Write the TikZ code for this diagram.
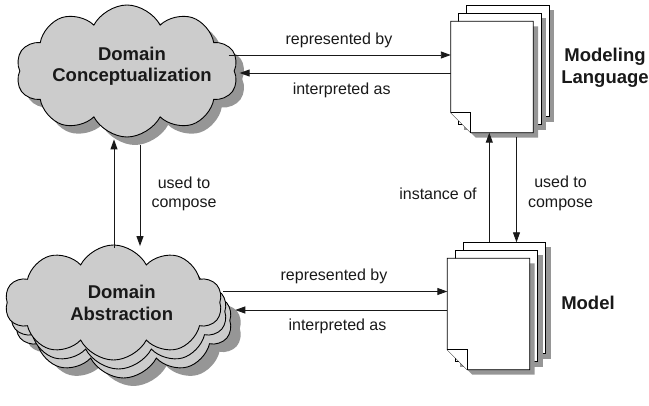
\documentclass[tikz,border=0pt]{standalone}
\usepackage{fontspec}
\setmainfont{Liberation Sans}
\usetikzlibrary{shapes.symbols,arrows.meta,calc}
\definecolor{cloudfill}{RGB}{204,204,204}
\definecolor{shadowgray}{RGB}{150,150,150}
\definecolor{inkc}{RGB}{25,25,25}
\newcommand{\docpage}[1]{%
  \fill[shadowgray] ([xshift=5pt,yshift=-5pt]#1.north west) rectangle ([xshift=5pt,yshift=-5pt]#1.south east);
  \draw[pageline] (#1.north west) rectangle (#1.south east);}
\newcommand{\docfront}[1]{%
  \fill[shadowgray] ([xshift=5pt,yshift=-5pt]#1.north west) -- ([xshift=5pt,yshift=-5pt]#1.north east) -- ([xshift=5pt,yshift=-5pt]#1.south east) -- ([xshift=25pt,yshift=-5pt]#1.south west) -- ([xshift=5pt,yshift=15pt]#1.south west) -- cycle;
  \draw[pageline] (#1.north west) -- (#1.north east) -- (#1.south east) -- ([xshift=20pt]#1.south west) -- ([yshift=20pt]#1.south west) -- cycle;
  \draw[pageline] ([yshift=20pt]#1.south west) -- ([xshift=20pt,yshift=20pt]#1.south west) -- ([xshift=20pt]#1.south west);}
\begin{document}
\begin{tikzpicture}[x=1pt,y=-1pt,
  cloudbase/.style={cloud, cloud puffs=10, cloud puff arc=125, shape border rotate=8, inner sep=0pt, line width=0.9pt},
  cloudmain/.style={cloudbase, draw=black, fill=cloudfill},
  cloudshadow/.style={cloudbase, draw=none, fill=shadowgray},
  pagebox/.style={rectangle, minimum width=82pt, minimum height=111pt, inner sep=0pt},
  pageline/.style={draw=black, fill=white, line width=0.8pt},
  arr/.style={draw=inkc, line width=0.9pt, -{Triangle[length=10pt,width=7pt]}},
  lbl/.style={font=\fontsize{16}{19.5}\selectfont, text=inkc, align=center, inner sep=0pt},
  ttl/.style={font=\fontsize{18.5}{21.5}\selectfont\bfseries, text=inkc, align=center, inner sep=0pt}]
\useasboundingbox (0,0) rectangle (649,406);

% top cloud
\node[cloudshadow, minimum width=222pt, minimum height=132pt] (dcs) at (135,79) {};
\node[cloudmain, minimum width=222pt, minimum height=132pt] (dc) at (127,71) {};
\node[ttl] (dctext) at (132,66) {Domain\\Conceptualization};

% bottom cloud stack
\node[cloudshadow, minimum width=217pt, minimum height=115pt] (das) at (133.5,328.5) {};
\node[cloudmain, minimum width=217pt, minimum height=115pt] (da3) at (123.5,320.5) {};
\node[cloudmain, minimum width=217pt, minimum height=115pt] (da2) at (118.5,311.5) {};
\node[cloudmain, minimum width=217pt, minimum height=115pt] (da) at (113.5,302.5) {};
\node[ttl] (datext) at (121.7,303) {Domain\\Abstraction};

% modeling language pages
\node[pagebox] (mlb) at (508,61) {};
\node[pagebox] (mlm) at (500,69) {};
\node[pagebox] (mlf) at (492,77) {};
\docpage{mlb}
\docpage{mlm}
\docfront{mlf}
\node[ttl] (mltext) at (605,68) {Modeling\\Language};

% model pages
\node[pagebox] (mdb) at (504.5,298) {};
\node[pagebox] (mdm) at (496.5,306) {};
\node[pagebox] (mdf) at (488.5,314) {};
\docpage{mdb}
\docpage{mdm}
\docfront{mdf}
\node[ttl] (mdtext) at (588,303) {Model};

% helper coordinates
\coordinate (r1) at (0,55);
\coordinate (i1) at (0,73);
\coordinate (r2) at (0,291.5);
\coordinate (i2) at (0,310);
\coordinate (vx1) at (114,0);
\coordinate (vx2) at (140,0);
\coordinate (vx3) at (489.3,0);
\coordinate (vx4) at (516.5,0);

% arrows
\draw[arr] ([xshift=-6pt]dc.east |- r1) -- (mlf.west |- r1);
\draw[arr] (mlf.west |- i1) -- ([xshift=5pt]dc.east |- i1);
\draw[arr] ([xshift=3pt]da.east |- r2) -- (mdf.west |- r2);
\draw[arr] (mdf.west |- i2) -- ([xshift=15pt]da.east |- i2);
\draw[arr] ([yshift=-3pt]da.north -| vx1) -- ([yshift=-2pt]dc.south -| vx1);
\draw[arr] ([yshift=-8pt]dc.south -| vx2) -- ([yshift=-1.5pt]da.north -| vx2);
\draw[arr] (mdb.north -| vx3) -- (mlf.south -| vx3);
\draw[arr] ([yshift=-4pt]mlf.south -| vx4) -- (mdb.north -| vx4);

% labels
\node[lbl] (l1) at (339,40) {represented by};
\node[lbl] (l2) at (341.7,90) {interpreted as};
\node[lbl] (l3) at (334,276.7) {represented by};
\node[lbl] (l4) at (337.5,326.7) {interpreted as};
\node[lbl] (l5) at (184,194) {used to\\compose};
\node[lbl] (l6) at (438,193.3) {instance of};
\node[lbl] (l7) at (560.5,193.3) {used to\\compose};
\end{tikzpicture}
\end{document}
